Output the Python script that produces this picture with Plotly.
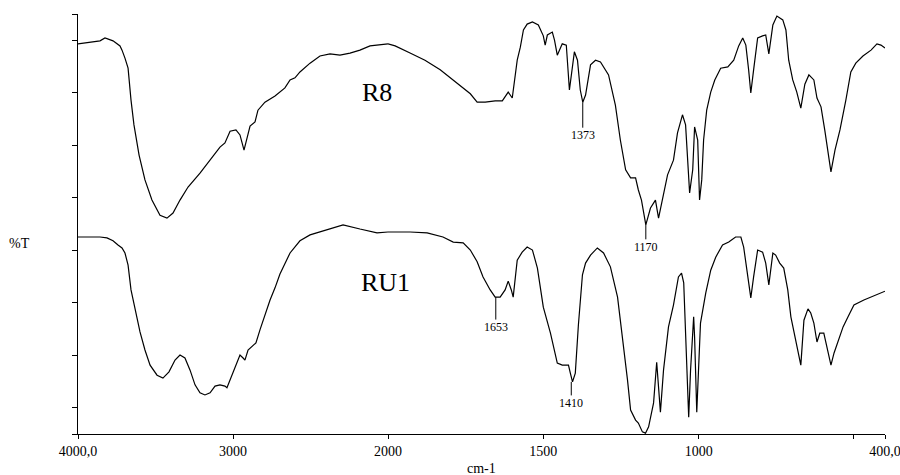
import plotly.graph_objects as go

# ---------------- data (wavenumber cm-1, %T on an arbitrary 0-100 scale) ----------------
R8_WN = [4000, 3923, 3858, 3826, 3774, 3729, 3716, 3697, 3677, 3658,
         3639, 3606, 3568, 3523, 3471, 3426, 3387, 3342, 3290, 3213,
         3148, 3084, 3052, 3019, 2981, 2955, 2929, 2910, 2890, 2858,
         2839, 2794, 2729, 2665, 2632, 2600, 2568, 2503, 2439, 2374,
         2310, 2245, 2181, 2116, 2019, 2000, 1977, 1929, 1881, 1832,
         1784, 1735, 1713, 1687, 1655, 1632, 1613, 1600, 1584, 1574,
         1564, 1552, 1535, 1516, 1500, 1494, 1487, 1471, 1464, 1455,
         1439, 1426, 1416, 1400, 1390, 1381, 1373, 1364, 1348, 1332,
         1316, 1290, 1268, 1252, 1235, 1219, 1203, 1194, 1184, 1174,
         1170, 1155, 1139, 1129, 1113, 1100, 1081, 1068, 1052, 1042,
         1029, 1019, 1013, 1003, 997, 990, 984, 974, 961, 948,
         929, 906, 887, 871, 858, 848, 839, 832, 823, 810,
         794, 784, 774, 761, 748, 729, 719, 710, 697, 684,
         671, 658, 645, 629, 619, 606, 594, 581, 574, 561,
         545, 526, 510, 494, 471, 445, 426, 413, 400]
R8_T = [92.9, 93.3, 93.6, 94.3, 93.6, 92.4, 91.4, 89.5, 87.1, 79.5,
        73.6, 66.4, 60.5, 55.7, 52.1, 51.4, 52.6, 55.7, 58.8, 62.1,
        65.2, 68.3, 69.3, 72.1, 72.4, 71.2, 67.6, 70.5, 73.3, 74.3,
        77.1, 79.0, 80.5, 82.4, 84.3, 84.8, 86.2, 88.3, 90.0, 90.5,
        90.2, 90.7, 91.4, 92.4, 92.9, 92.9, 92.4, 90.7, 89.0, 86.7,
        83.8, 81.0, 79.0, 79.0, 79.3, 79.3, 81.4, 80.0, 89.0, 92.1,
        96.2, 97.6, 98.1, 97.4, 94.8, 92.6, 95.0, 95.7, 93.8, 90.2,
        92.9, 92.6, 81.9, 91.0, 89.0, 81.9, 79.0, 80.7, 87.9, 89.0,
        88.6, 85.5, 78.3, 70.0, 62.9, 61.0, 61.0, 58.1, 55.7, 51.0,
        49.8, 53.8, 55.7, 51.4, 56.9, 61.7, 65.2, 71.7, 76.0, 73.6,
        57.4, 62.9, 73.1, 70.0, 55.7, 60.5, 70.0, 77.1, 81.4, 84.3,
        87.1, 87.4, 89.0, 92.4, 94.3, 92.6, 86.7, 81.2, 86.7, 94.3,
        94.8, 95.0, 90.5, 97.4, 99.5, 98.6, 96.2, 89.0, 84.3, 81.4,
        77.6, 83.3, 85.5, 84.3, 80.0, 77.9, 72.4, 65.2, 62.4, 67.6,
        72.4, 79.5, 86.2, 88.3, 90.0, 91.4, 92.9, 92.6, 91.9]

RU1_WN = [4000, 3923, 3858, 3813, 3774, 3742, 3716, 3697, 3677, 3658,
          3639, 3626, 3600, 3568, 3535, 3490, 3452, 3413, 3374, 3342,
          3310, 3277, 3245, 3213, 3181, 3148, 3116, 3084, 3052, 3039,
          3006, 2974, 2955, 2935, 2923, 2903, 2871, 2852, 2826, 2794,
          2761, 2729, 2697, 2632, 2568, 2503, 2439, 2290, 2181, 2116,
          2071, 2000, 1929, 1874, 1823, 1790, 1758, 1735, 1713, 1694,
          1671, 1655, 1639, 1623, 1613, 1603, 1597, 1584, 1568, 1552,
          1535, 1519, 1500, 1477, 1455, 1439, 1419, 1413, 1406, 1397,
          1387, 1374, 1364, 1348, 1326, 1306, 1284, 1261, 1245, 1229,
          1219, 1203, 1194, 1181, 1171, 1161, 1145, 1135, 1123, 1113,
          1097, 1081, 1065, 1055, 1048, 1032, 1026, 1016, 1013, 1006,
          994, 977, 961, 945, 923, 903, 881, 864, 855, 842,
          832, 823, 810, 794, 784, 774, 761, 752, 739, 726,
          713, 703, 687, 671, 661, 648, 639, 629, 619, 610,
          597, 587, 574, 564, 552, 535, 519, 500, 468, 435,
          400]
RU1_T = [46.9, 46.9, 46.9, 46.7, 46.0, 45.0, 44.3, 43.1, 40.2, 34.3,
         31.2, 28.3, 24.3, 20.0, 16.4, 14.0, 13.3, 14.8, 17.6, 18.8,
         18.1, 15.2, 11.7, 9.8, 9.3, 9.8, 11.4, 11.7, 11.4, 11.0,
         14.0, 16.9, 18.8, 18.1, 17.6, 20.0, 21.2, 21.7, 24.8, 28.3,
         31.9, 34.8, 38.1, 43.1, 46.0, 47.4, 48.1, 49.8, 48.8, 48.3,
         47.9, 48.1, 48.1, 47.9, 46.9, 45.7, 45.5, 43.8, 41.0, 37.4,
         34.3, 32.6, 32.6, 34.3, 36.4, 34.3, 32.6, 41.4, 43.3, 44.5,
         43.8, 39.5, 30.2, 24.0, 16.9, 16.4, 16.4, 14.5, 12.4, 14.5,
         26.0, 37.9, 40.7, 42.6, 44.3, 43.1, 39.8, 32.6, 23.1, 12.9,
         5.7, 3.3, 2.6, 0.5, 0.2, 1.7, 7.4, 17.1, 5.2, 15.2,
         25.5, 30.7, 37.4, 38.3, 36.0, 4.0, 15.2, 27.9, 23.1, 5.2,
         26.4, 33.6, 39.0, 42.1, 45.0, 45.7, 46.9, 46.9, 44.5, 37.4,
         32.4, 37.4, 43.8, 43.3, 40.7, 35.5, 43.1, 42.6, 40.7, 39.5,
         34.3, 27.9, 22.4, 16.4, 27.1, 29.8, 28.8, 26.4, 21.9, 24.0,
         24.0, 20.7, 16.4, 19.3, 21.7, 25.5, 27.9, 30.7, 31.9, 32.9,
         34.0]

# peak labels: (series, wavenumber, %T at peak, label)
PEAKS = [("R8", 1373, 79.0, "1373"),
         ("R8", 1170, 49.8, "1170"),
         ("RU1", 1653, 32.6, "1653"),
         ("RU1", 1410, 12.4, "1410")]
SERIES_LABELS = [("R8", 2071, 81.4), ("RU1", 2013, 36.0)]

X_TICKS_HI = [4000, 3000, 2000]
X_TICKTEXT_HI = ["4000,0", "3000", "2000"]
X_TICKS_LO = [1500, 1000, 500, 400]
X_TICKTEXT_LO = ["1500", "1000", "", "400,0"]
Y_TICKS = [0, 6.25, 18.75, 31.25, 43.75, 56.25, 68.75, 81.25, 93.75, 100]

SPLIT = 2000
FONT = "Liberation Serif, Times New Roman, serif"

# ---------------- figure ----------------
fig = go.Figure()

def add_series(wn, t):
    hi = [(w, v) for w, v in zip(wn, t) if w >= SPLIT]
    lo = [(w, v) for w, v in zip(wn, t) if w <= SPLIT]
    for pts, xa in ((hi, "x"), (lo, "x2")):
        fig.add_trace(go.Scatter(
            x=[p[0] for p in pts], y=[p[1] for p in pts],
            mode="lines", xaxis=xa, yaxis="y",
            line=dict(color="black", width=1.2),
            showlegend=False, hoverinfo="skip"))

add_series(R8_WN, R8_T)
add_series(RU1_WN, RU1_T)

L, R, T, B = 78, 15, 14, 41
W, H = 900, 475
plot_w = W - L - R
plot_h = H - T - B
D = (4000 - 2000) * 0.155 / plot_w  # fraction of width for the compressed high range

axis_common = dict(showgrid=False, zeroline=False, showline=True,
                   linecolor="black", linewidth=1, ticks="outside",
                   ticklen=4, tickcolor="black", tickwidth=1,
                   tickfont=dict(family=FONT, size=14, color="black"),
                   anchor="y", tickmode="array", fixedrange=True,
                   automargin=False, ticklabeloverflow="allow")

fig.update_layout(
    width=W, height=H, autosize=False,
    margin=dict(l=L, r=R, t=T, b=B, autoexpand=False),
    paper_bgcolor="white", plot_bgcolor="white",
    font=dict(family=FONT, color="black"),
    showlegend=False,
    xaxis=dict(domain=[0, D], range=[4000, 2000],
               tickvals=X_TICKS_HI, ticktext=X_TICKTEXT_HI, **axis_common),
    xaxis2=dict(domain=[D, 1], range=[2000, 400],
                tickvals=X_TICKS_LO, ticktext=X_TICKTEXT_LO, **axis_common),
    yaxis=dict(range=[0, 100], showgrid=False, zeroline=False, showline=True,
               linecolor="black", linewidth=1, ticks="outside", ticklen=5,
               tickcolor="black", tickmode="array", tickvals=Y_TICKS,
               showticklabels=False, fixedrange=True, automargin=False),
)

ann = []
for name, x, y in SERIES_LABELS:
    ann.append(dict(text=name, x=x, y=y, xref="x", yref="y", showarrow=False,
                    xanchor="center", yanchor="middle",
                    font=dict(family=FONT, size=26, color="black")))

offsets = {"1373": 33, "1170": 22, "1653": 30, "1410": 21}
for _, x, y, lab in PEAKS:
    ann.append(dict(text=lab, x=x, y=y, xref="x2", yref="y", showarrow=True,
                    arrowhead=0, arrowwidth=1, arrowcolor="black", standoff=0,
                    ax=0, ay=offsets[lab], borderpad=0,
                    font=dict(family=FONT, size=12, color="black")))

ann.append(dict(text="%T", xref="paper", yref="paper", x=(19 - L) / plot_w,
                y=(H - B - 243) / plot_h, showarrow=False,
                xanchor="center", yanchor="middle",
                font=dict(family=FONT, size=14, color="black")))
ann.append(dict(text="cm-1", xref="paper", yref="paper", x=0.5,
                y=(H - B - 468) / plot_h, showarrow=False,
                xanchor="center", yanchor="middle",
                font=dict(family=FONT, size=14, color="black")))
fig.update_layout(annotations=ann)

fig.write_html("out.html", config={"responsive": False})
